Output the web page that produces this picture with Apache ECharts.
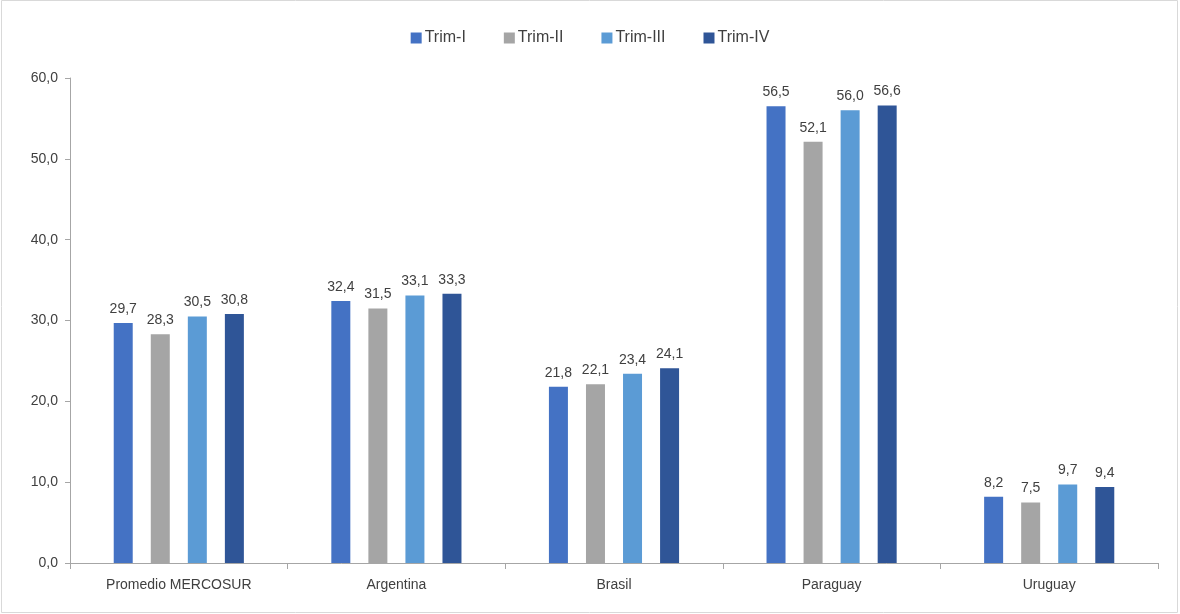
<!DOCTYPE html>
<html><head><meta charset="utf-8">
<script src="https://cdn.jsdelivr.net/npm/echarts@6/dist/echarts.min.js"></script>
<style>html,body{margin:0;padding:0;background:#fff}#c{width:1180px;height:614px}</style>
</head><body><div id="c"></div>
<script>
const categories = ['Promedio MERCOSUR','Argentina','Brasil','Paraguay','Uruguay'];
const seriesNames = ['Trim-I','Trim-II','Trim-III','Trim-IV'];
const trimI   = [29.7, 32.4, 21.8, 56.5, 8.2];
const trimII  = [28.3, 31.5, 22.1, 52.1, 7.5];
const trimIII = [30.5, 33.1, 23.4, 56.0, 9.7];
const trimIV  = [30.8, 33.3, 24.1, 56.6, 9.4];
const colors = ['#4472C4','#A5A5A5','#5B9BD5','#2F5597'];
const allData = [trimI, trimII, trimIII, trimIV];
const fmt = v => v.toFixed(1).replace('.', ',');
const chart = echarts.init(document.getElementById('c'));
chart.setOption({
  animation:false,
  textStyle:{fontFamily:'Liberation Sans, Arial, sans-serif'},
  graphic:[{type:'rect',shape:{x:1.5,y:0.5,width:1176,height:612},style:{fill:'none',stroke:'#d9d9d9',lineWidth:1}}],
  legend:{top:25,left:'center',itemWidth:11,itemHeight:11,itemGap:38,icon:'rect',
    textStyle:{fontSize:16,color:'#404040',padding:[0,0,0,-2]},data:seriesNames},
  grid:{left:70,right:22,top:78,bottom:51},
  xAxis:{type:'category',data:categories,
    axisLine:{lineStyle:{color:'#a6a6a6'}},
    axisTick:{show:true,alignWithLabel:false,length:6,lineStyle:{color:'#a6a6a6'}},
    axisLabel:{fontSize:14,color:'#404040',margin:15}},
  yAxis:{type:'value',min:0,max:60,interval:10,
    axisLine:{show:true,lineStyle:{color:'#a6a6a6'}},
    axisTick:{show:true,length:5,lineStyle:{color:'#a6a6a6'}},
    splitLine:{show:false},
    axisLabel:{fontSize:14,color:'#404040',margin:12,formatter:v=>fmt(v)}},
  series: seriesNames.map((n,i)=>({
    name:n,type:'bar',data:allData[i],barWidth:19,barGap:'95%',
    itemStyle:{color:colors[i]},
    label:{show:true,position:'top',distance:7,fontSize:14,color:'#404040',formatter:p=>fmt(p.value)}
  }))
});
</script></body></html>
